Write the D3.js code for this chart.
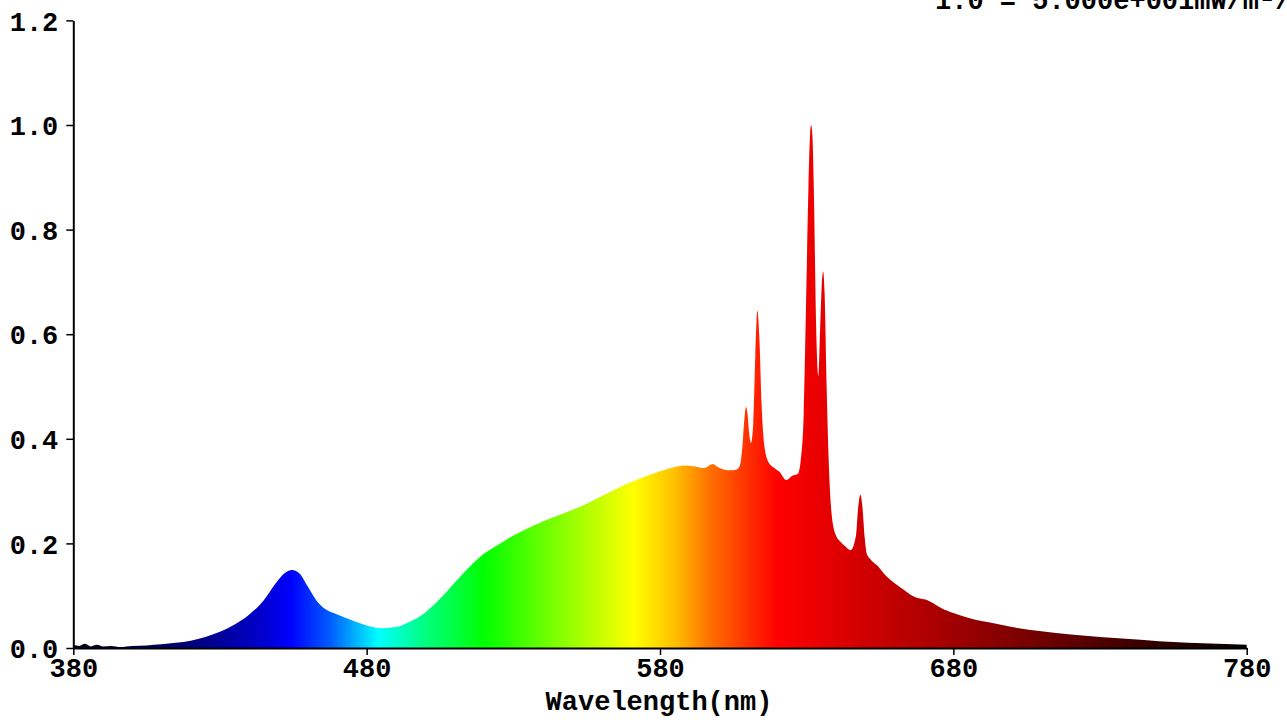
<!DOCTYPE html>
<html>
<head>
<meta charset="utf-8">
<script src="https://cdn.jsdelivr.net/npm/d3@7"></script>
<style>
  body { margin: 0; background: #fff; }
  text { font-family: "Liberation Mono", "DejaVu Sans Mono", monospace; font-weight: bold; fill: #000; }
</style>
</head>
<body>
<div id="chart"></div>
<script>
/* spectral power distribution, relative scale */

// wavelength (nm) and relative power
const wavelengths = [380, 382, 384, 386, 388, 390, 393, 396, 400, 405, 410, 415, 420, 425, 430, 435, 440, 445, 449, 452,
  454.5, 457, 460, 463, 466, 470, 475, 480, 485, 490, 495, 500, 505, 510, 515, 520, 525, 530, 535, 540,
  545, 550, 555, 560, 565, 570, 575, 580, 585, 588, 592, 595, 598, 600, 602, 604, 606, 607.3, 608, 608.8, 609.3, 609.8,
  610.4, 611, 611.8, 612.5, 613.2, 613.9, 614.6, 615.5, 617, 619, 621, 623, 625, 627, 628, 629, 629.8, 630.6, 631.2, 631.5,
  631.9, 632.5, 633.2, 634, 634.7, 635.2, 635.6, 636.1, 636.8, 637.5, 638.3, 639, 640, 641.5, 643, 645, 646.8, 647.5,
  648.3, 649, 649.8, 650.5, 652, 654, 657, 660, 663, 666, 669, 671, 673, 676, 680, 685, 690, 695, 700, 710,
  720, 730, 740, 750, 760, 770, 780];

const power = [0.006, 0.004, 0.008, 0.003, 0.006, 0.003, 0.004, 0.002, 0.004, 0.005, 0.007, 0.010, 0.014, 0.021, 0.031, 0.045, 0.064, 0.092, 0.124, 0.143,
  0.149, 0.143, 0.117, 0.090, 0.074, 0.064, 0.053, 0.043, 0.038, 0.040, 0.051, 0.068, 0.094, 0.125, 0.155, 0.180, 0.198, 0.215, 0.229, 0.242,
  0.253, 0.264, 0.276, 0.290, 0.304, 0.317, 0.328, 0.338, 0.346, 0.349, 0.347, 0.344, 0.352, 0.345, 0.341, 0.340, 0.341, 0.35, 0.38, 0.44, 0.461, 0.45,
  0.41, 0.392, 0.43, 0.56, 0.645, 0.59, 0.47, 0.39, 0.355, 0.344, 0.335, 0.321, 0.329, 0.333, 0.36, 0.45, 0.66, 0.88, 0.985, 1.0,
  0.985, 0.86, 0.62, 0.52, 0.63, 0.70, 0.72, 0.68, 0.50, 0.36, 0.27, 0.235, 0.215, 0.203, 0.195, 0.187, 0.215, 0.265,
  0.293, 0.27, 0.21, 0.18, 0.168, 0.158, 0.138, 0.124, 0.112, 0.100, 0.094, 0.092, 0.086, 0.076, 0.067, 0.058, 0.051, 0.046, 0.040, 0.032,
  0.026, 0.021, 0.017, 0.013, 0.010, 0.008, 0.006];

const xTicks = [380, 480, 580, 680, 780];
const yTicks = [0, 0.2, 0.4, 0.6, 0.8, 1.0, 1.2];

// colour of the fill along the wavelength axis
const stopNm = [380, 410, 430, 445, 454, 468, 484, 500, 520, 545, 571, 585, 597, 610, 620, 640, 660, 680, 700, 740, 780];
const stopColor = ["#00001a", "#000060", "#00009a", "#0000d0", "#0000ff", "#0060ff", "#00ffff", "#00ff80", "#00ff00", "#80ff00",
  "#ffff00", "#ffc000", "#ff7000", "#ff3000", "#ff0000", "#e00000", "#c00000", "#a00000", "#800000", "#400000", "#000000"];

let width = 1287,
    height = 724,
    margin = ({ top: 20.4, right: 40.3, bottom: 76, left: 73.3 });

const svg = d3.select("#chart")
  .append("svg")
  .attr("width", width)
  .attr("height", height)
  .attr("viewBox", [0, 0, width, height]);

let data = wavelengths.map((w, i) => ({ w: w, v: power[i] }));

let x = d3.scaleLinear()
  .domain([380, 780])
  .range([margin.left, width - margin.right]);

let y = d3.scaleLinear()
  .domain([0, 1.2])
  .range([height - margin.bottom, margin.top]);

let grad = svg.append("defs")
  .append("linearGradient")
  .attr("id", "spectrum")
  .attr("gradientUnits", "userSpaceOnUse")
  .attr("x1", x(380)).attr("x2", x(780))
  .attr("y1", 0).attr("y2", 0);

grad.selectAll("stop")
  .data(stopNm)
  .join("stop")
  .attr("offset", d => (d - 380) / 400)
  .attr("stop-color", (d, i) => stopColor[i]);

let area = d3.area()
  .curve(d3.curveMonotoneX)
  .x(d => x(d.w))
  .y0(y(0))
  .y1(d => y(d.v));

svg.append("path")
  .datum(data)
  .attr("fill", "url(#spectrum)")
  .attr("d", area);

// axes
let xAxis = svg.append("g")
  .attr("transform", `translate(0,${y(0)})`)
  .call(d3.axisBottom(x).tickValues(xTicks).tickSizeOuter(0).tickSizeInner(7).tickPadding(3));

let yAxis = svg.append("g")
  .attr("transform", `translate(${margin.left},0)`)
  .call(d3.axisLeft(y).tickValues(yTicks).tickFormat(d3.format(".1f")).tickSizeOuter(0).tickSizeInner(7).tickPadding(8));

for (let g of [xAxis, yAxis]) {
  g.select(".domain").attr("stroke", "#000").attr("stroke-width", 2);
  g.selectAll(".tick line").attr("stroke", "#000").attr("stroke-width", 1.5);
  g.selectAll(".tick text")
    .attr("font-family", "Liberation Mono")
    .attr("font-weight", "bold")
    .attr("font-size", 27)
    .attr("fill", "#000");
}
yAxis.selectAll(".tick text").attr("dy", "0.36em");

svg.append("text")
  .text("Wavelength(nm)")
  .attr("x", 659)
  .attr("y", 710)
  .attr("text-anchor", "middle")
  .attr("font-size", 27);

// scale note, cut by the top and right edges as in the source
svg.append("text")
  .text("1.0 = 5.000e+001mW/m²/nm")
  .attr("x", 935)
  .attr("y", 9)
  .attr("font-size", 27);
</script>
</body>
</html>
